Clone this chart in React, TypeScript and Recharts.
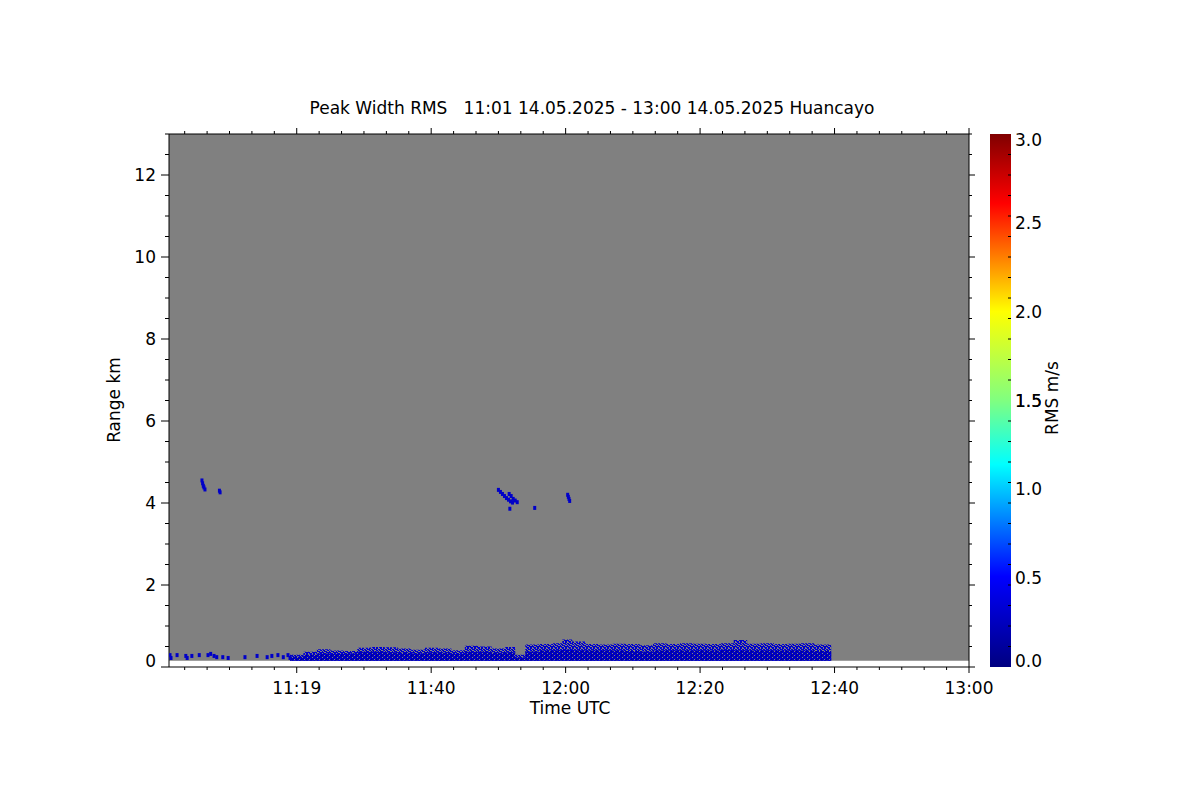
import { ComposedChart, BarChart, Bar, Area, Scatter, XAxis, YAxis, ReferenceArea } from "recharts";

// time in minutes after 11:00 UTC, range in km
const timeDomain: [number, number] = [1, 120];
const majorTimes = [20, 40, 60, 80, 100, 120];
const majorTimeLabels = ["11:19", "11:40", "12:00", "12:20", "12:40", "13:00"];
const minorTimes = Array.from({ length: 37 }, (_, i) => (i * 20) / 6).filter((v) => v >= 1 && v <= 120);

const rangeTicks = Array.from({ length: 27 }, (_, i) => i * 0.5);
const firstGateKm = 0.15;

// dense echo band near the ground (11:19 - 12:40)
const bandTime = [19, 21, 23, 25, 27, 29, 31, 33, 35, 37, 39, 41, 43, 45, 47, 49, 51, 52.5, 54, 56, 58, 59.5, 61, 63, 65, 67, 69, 71, 73, 75, 77, 79, 81, 83, 85, 87, 89, 91, 93, 95, 97, 99.5];
const bandTop = [0.3, 0.37, 0.43, 0.4, 0.39, 0.47, 0.49, 0.48, 0.45, 0.42, 0.47, 0.45, 0.41, 0.52, 0.5, 0.45, 0.49, 0.3, 0.55, 0.56, 0.58, 0.67, 0.62, 0.56, 0.55, 0.57, 0.56, 0.53, 0.58, 0.56, 0.58, 0.57, 0.56, 0.58, 0.66, 0.57, 0.58, 0.56, 0.57, 0.58, 0.55, 0.56];
const denseTop = [0.25, 0.3, 0.33, 0.32, 0.33, 0.37, 0.38, 0.36, 0.35, 0.33, 0.36, 0.35, 0.32, 0.37, 0.38, 0.35, 0.36, 0.24, 0.38, 0.4, 0.41, 0.42, 0.41, 0.4, 0.41, 0.4, 0.39, 0.38, 0.4, 0.41, 0.4, 0.41, 0.4, 0.42, 0.41, 0.4, 0.41, 0.4, 0.41, 0.4, 0.39, 0.4];

// isolated echoes before the band starts
const sparseTime = [1.15, 1.3, 2.2, 3.5, 3.7, 4.4, 5.5, 6.8, 7.2, 7.7, 8.1, 9.0, 9.8, 12.3, 14.1, 15.6, 16.3, 17.2, 18.0, 18.7, 19.0];
const sparseKm = [0.29, 0.22, 0.29, 0.27, 0.22, 0.27, 0.29, 0.29, 0.32, 0.27, 0.24, 0.24, 0.22, 0.24, 0.27, 0.24, 0.27, 0.29, 0.24, 0.29, 0.22];

// small patches around 4 km
const patchTime = [5.9, 6.0, 6.1, 6.2, 6.35, 8.5, 8.6, 50.0, 50.3, 50.6, 50.9, 51.2, 51.5, 51.8, 52.1, 51.6, 51.9, 52.2, 52.5, 52.8, 51.7, 55.4, 60.3, 60.4, 60.5, 60.6];
const patchKm = [4.55, 4.48, 4.42, 4.38, 4.33, 4.3, 4.26, 4.32, 4.27, 4.22, 4.17, 4.12, 4.08, 4.04, 4.01, 4.22, 4.17, 4.1, 4.06, 4.02, 3.86, 3.88, 4.2, 4.15, 4.1, 4.05];

// colour bar
const rmsMax = 3;
const rmsLabels = [0, 0.5, 1, 1.5, 2, 2.5, 3];
const rmsMinor = Array.from({ length: 25 }, (_, i) => ((i + 1) * rmsMax) / 26);
const jetStops = [
  { at: 0, color: "#000080" },
  { at: 0.17, color: "#0000ff" },
  { at: 0.38, color: "#00ffff" },
  { at: 0.5, color: "#80ff80" },
  { at: 0.667, color: "#ffff00" },
  { at: 0.87, color: "#ff0000" },
  { at: 1, color: "#800000" },
];

const FONT = "'DejaVu Sans', Verdana, sans-serif";
const FS = 17;
const INK = "#000";

const bandData = bandTime.map((t, i) => ({ t, band: [firstGateKm, bandTop[i]], dense: [firstGateKm, denseTop[i]] }));
const sparseData = sparseTime.map((t, i) => ({ t, km: sparseKm[i] }));
const patchData = patchTime.map((t, i) => ({ t, km: patchKm[i] }));

const isMajorTime = (v: number) => majorTimes.some((m) => Math.abs(m - v) < 1e-6);
const isMajorRange = (v: number) => Math.abs(v % 2) < 1e-6;

const BottomTick = (props: any) => {
  const { x, y, payload } = props;
  const major = isMajorTime(payload.value);
  const idx = majorTimes.findIndex((m) => Math.abs(m - payload.value) < 1e-6);
  return (
    <g>
      <line x1={x} x2={x} y1={y} y2={y + (major ? 6 : 3)} stroke={INK} />
      {major && (
        <text x={x} y={y + 27} textAnchor="middle" fontSize={FS} fontFamily={FONT} fill={INK}>
          {majorTimeLabels[idx]}
        </text>
      )}
    </g>
  );
};

const TopTick = (props: any) => {
  const { x, y, payload } = props;
  const major = isMajorTime(payload.value);
  return <line x1={x} x2={x} y1={y} y2={y - (major ? 6 : 3)} stroke={INK} />;
};

const LeftTick = (props: any) => {
  const { x, y, payload } = props;
  const major = isMajorRange(payload.value);
  const shift = payload.value === 0 ? -6 : 0;
  return (
    <g>
      <line x1={x - (major ? 8 : 4)} x2={x} y1={y} y2={y} stroke={INK} />
      {major && (
        <text x={x - 13} y={y + 6 + shift} textAnchor="end" fontSize={FS} fontFamily={FONT} fill={INK}>
          {payload.value}
        </text>
      )}
    </g>
  );
};

const RightTick = (props: any) => {
  const { x, y, payload } = props;
  const major = isMajorRange(payload.value);
  return <line x1={x} x2={x + (major ? 6 : 3)} y1={y} y2={y} stroke={INK} />;
};

const BarTick = (props: any) => {
  const { x, y, payload } = props;
  const labelled = rmsLabels.some((v) => Math.abs(v - payload.value) < 1e-6);
  if (!labelled) return <line x1={x - 3} x2={x} y1={y} y2={y} stroke={INK} />;
  const shift = payload.value === 0 ? -6 : payload.value === rmsMax ? 6 : 0;
  return (
    <text x={x + 4} y={y + 6 + shift} textAnchor="start" fontSize={FS} fontFamily={FONT} fill={INK}>
      {payload.value.toFixed(1)}
    </text>
  );
};

const Square = (props: any) => {
  const { cx, cy } = props;
  if (cx == null || cy == null) return <g />;
  return <rect x={cx - 1.5} y={cy - 2} width={3} height={4} fill="#0000c8" />;
};

const Labels = () => (
  <svg width={1200} height={800} style={{ position: "absolute", left: 0, top: 0, pointerEvents: "none" }}>
    <text x={592} y={114} textAnchor="middle" fontSize={FS} fontFamily={FONT} fill={INK} style={{ whiteSpace: "pre" }}>
      {"Peak Width RMS   11:01 14.05.2025 - 13:00 14.05.2025 Huancayo"}
    </text>
    <text x={570} y={714} textAnchor="middle" fontSize={FS} fontFamily={FONT} fill={INK}>
      Time UTC
    </text>
    <text x={114} y={400} transform="rotate(-90 114 400)" textAnchor="middle" dominantBaseline="central" fontSize={FS} fontFamily={FONT} fill={INK}>
      Range km
    </text>
    <text x={1052} y={398} transform="rotate(-90 1052 398)" textAnchor="middle" dominantBaseline="central" fontSize={FS} fontFamily={FONT} fill={INK}>
      RMS m/s
    </text>
  </svg>
);

export default function App() {
  return (
    <div style={{ position: "absolute", left: 0, top: 0, width: 1200, height: 800, background: "#fff" }}>
      <div style={{ position: "absolute", left: 0, top: 0 }}>
        <ComposedChart width={1200} height={800} data={bandData} margin={{ top: 133, right: 230, bottom: 132, left: 168 }}>
          <defs>
            <pattern id="speckle" width={7} height={6} patternUnits="userSpaceOnUse">
              <rect width={7} height={6} fill="#0000c8" />
              {[[0, 0], [1, 0], [4, 0], [2, 1], [6, 1], [0, 2], [3, 2], [4, 2], [1, 3], [5, 3], [6, 3], [2, 4], [3, 4], [0, 5], [4, 5]].map(([px, py], i) => (
                <rect key={i} x={px} y={py} width={1} height={1} fill="#808080" />
              ))}
              <rect x={3} y={0} width={1} height={1} fill="#0000ff" />
              <rect x={5} y={2} width={1} height={1} fill="#0000ff" />
              <rect x={1} y={5} width={1} height={1} fill="#0000ff" />
            </pattern>
            <pattern id="dense" width={5} height={4} patternUnits="userSpaceOnUse">
              <rect width={5} height={4} fill="#0000b8" />
              <rect x={2} y={1} width={1} height={1} fill="#808080" />
              <rect x={4} y={3} width={1} height={1} fill="#808080" />
              <rect x={0} y={2} width={1} height={1} fill="#0000f0" />
              <rect x={3} y={0} width={1} height={1} fill="#0000f0" />
              <rect x={1} y={3} width={1} height={1} fill="#000090" />
            </pattern>
          </defs>
          <XAxis dataKey="t" type="number" domain={timeDomain} allowDataOverflow ticks={[...minorTimes]} interval={0}
            height={1} tickSize={0} tickMargin={0} tickLine={false} axisLine={{ stroke: INK }} tick={BottomTick} />
          <XAxis xAxisId="top" orientation="top" dataKey="t" type="number" domain={timeDomain} allowDataOverflow ticks={[...minorTimes]} interval={0}
            height={1} tickSize={0} tickMargin={0} tickLine={false} axisLine={{ stroke: INK }} tick={TopTick} />
          <YAxis type="number" domain={[0, 13]} allowDataOverflow ticks={rangeTicks} interval={0}
            width={1} tickSize={0} tickMargin={0} tickLine={false} axisLine={{ stroke: INK }} tick={LeftTick} />
          <YAxis yAxisId="right" orientation="right" type="number" domain={[0, 13]} allowDataOverflow ticks={rangeTicks} interval={0}
            width={1} tickSize={0} tickMargin={0} tickLine={false} axisLine={{ stroke: INK }} tick={RightTick} />
          <ReferenceArea x1={timeDomain[0]} x2={timeDomain[1]} y1={firstGateKm} y2={13} fill="#808080" fillOpacity={1} stroke="none" ifOverflow="hidden" />
          <Area dataKey="band" type="stepAfter" stroke="none" fill="url(#speckle)" fillOpacity={1} isAnimationActive={false} dot={false} activeDot={false} />
          <Area dataKey="dense" type="stepAfter" stroke="none" fill="url(#dense)" fillOpacity={1} isAnimationActive={false} dot={false} activeDot={false} />
          <Scatter data={sparseData} dataKey="km" shape={Square} isAnimationActive={false} />
          <Scatter data={patchData} dataKey="km" shape={Square} isAnimationActive={false} />
        </ComposedChart>
      </div>
      <div style={{ position: "absolute", left: 0, top: 0 }}>
        <BarChart width={1200} height={800} data={[{ name: "rms", v: rmsMax }]} margin={{ top: 134, right: 188, bottom: 133, left: 990 }} barCategoryGap={0}>
          <defs>
            <linearGradient id="jet" x1="0" y1="1" x2="0" y2="0">
              {jetStops.map((s) => (
                <stop key={s.at} offset={s.at} stopColor={s.color} />
              ))}
            </linearGradient>
          </defs>
          <XAxis dataKey="name" hide />
          <YAxis orientation="right" type="number" domain={[0, rmsMax]} ticks={[...rmsLabels, ...rmsMinor]} interval={0}
            width={1} tickSize={0} tickMargin={0} tickLine={false} axisLine={false} tick={BarTick} />
          <Bar dataKey="v" fill="url(#jet)" isAnimationActive={false} />
        </BarChart>
      </div>
      <Labels />
    </div>
  );
}
